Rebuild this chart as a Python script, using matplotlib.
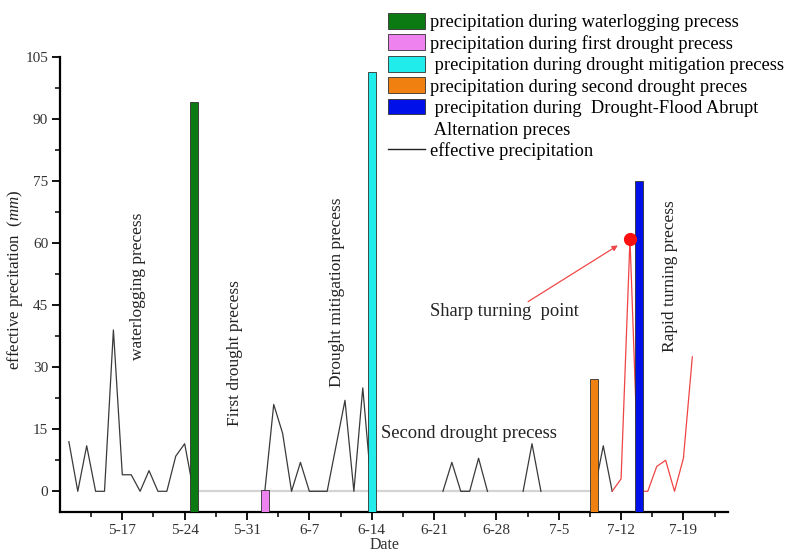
import numpy as np
import pandas as pd
import matplotlib
matplotlib.use('Agg')
import matplotlib.pyplot as plt
from matplotlib.patches import Patch
from matplotlib.lines import Line2D
from matplotlib.ticker import FixedLocator, MultipleLocator

plt.rcParams['font.family'] = ['Liberation Serif', 'DejaVu Serif']
plt.rcParams['mathtext.fontset'] = 'custom'
plt.rcParams['mathtext.rm'] = 'Liberation Serif'
plt.rcParams['mathtext.it'] = 'Liberation Serif:italic'

YEAR = 2016
nan = np.nan

# daily effective precipitation (mm), NaN where no curve is drawn
black_start = '5-11'
black_vals = ([12, 0, 11, 0, 0, 39, 4, 4, 0, 5, 0, 0, 8.5, 11.5, 0]      # 5-11 .. 5-25
              + [nan] * 7                                                 # 5-26 .. 6-1
              + [0, 21, 14, 0, 7, 0, 0, 0, 11, 22, 0, 25, 0]              # 6-2 .. 6-14
              + [nan] * 7                                                 # 6-15 .. 6-21
              + [0, 7, 0, 0, 8, 0]                                        # 6-22 .. 6-27
              + [nan] * 3                                                 # 6-28 .. 6-30
              + [0, 11.5, 0]                                              # 7-1 .. 7-3
              + [nan] * 5                                                 # 7-4 .. 7-8
              + [0, 11, 0])                                               # 7-9 .. 7-11
red_start = '7-11'
red_vals = [0, 3, 61, 0, 0, 6, 7.5, 0, 8, 32.5]                          # 7-11 .. 7-20

# precipitation bars for each process
bar_dates = ['5-25', '6-2', '6-14', '7-9', '7-14']
bar_vals = [94.2, 0.3, 101.3, 27.1, 75.1]
bar_colors = ['#0b7a12', '#ee82ee', '#20ecec', '#f08010', '#0010e8']
bar_labels = ['precipitation during waterlogging precess',
              'precipitation during first drought precess',
              ' precipitation during drought mitigation precess',
              'precipitation during second drought preces',
              ' precipitation during  Drought-Flood Abrupt']

turn_date = '7-13'
turn_val = 61

tick_dates = ['5-17', '5-24', '5-31', '6-7', '6-14', '6-21', '6-28', '7-5', '7-12', '7-19']


def d(s):
    m, dd = s.split('-')
    return pd.Timestamp(year=YEAR, month=int(m), day=int(dd))


def num(s):
    return matplotlib.dates.date2num(d(s))


black_x = pd.date_range(d(black_start), periods=len(black_vals), freq='D')
red_x = pd.date_range(d(red_start), periods=len(red_vals), freq='D')

fig = plt.figure(figsize=(7.88, 5.52), dpi=100)
ax = fig.add_axes([0.0761, 0.0725, 0.8477, 0.8243])

ymin = -5
# light baseline during the drought spell
ax.plot([d(bar_dates[0]), d(bar_dates[3])], [0, 0], color='#d4d4d4', lw=1.6, zorder=1)

ax.plot(black_x, black_vals, color='#3a3a3a', lw=0.9, zorder=2)
ax.plot(red_x, red_vals, color='#f04444', lw=0.9, zorder=2)

for dt, v, c in zip(bar_dates, bar_vals, bar_colors):
    ax.bar(d(dt), v - ymin, bottom=ymin, width=0.9, color=c,
           edgecolor='#303030', linewidth=0.6, zorder=3)

ax.plot(d(turn_date), turn_val, 'o', color='#ff1010', ms=8.5, zorder=4)
ax.annotate('', xy=(num('7-12') - 0.1, 59.8), xytext=(num('7-1') + 0.3, 45.5),
            arrowprops=dict(arrowstyle='-|>', color='#f04848', lw=0.9,
                            mutation_scale=8), zorder=4)

vtxt = dict(color='#222222', fontsize=12.5, ha='center', va='center', rotation=90)
htxt = dict(color='#222222', fontsize=13.3, ha='center', va='center')
ax.text(num('5-18') + 0.8, 49.5, 'waterlogging precess', **vtxt)
ax.text(num('5-29') + 0.6, 33.4, 'First drought precess', **vtxt)
ax.text(num('6-10') + 0.1, 48.0, 'Drought mitigation precess', **vtxt)
ax.text(num('6-24') + 0.9, 14.0, 'Second drought precess', **htxt)
ax.text(num('6-28') + 0.9, 43.5, 'Sharp turning  point', **htxt)
ax.text(num('7-17') + 0.5, 52.0, 'Rapid turning precess', **vtxt)

ax.set_xlim(d('5-10'), d('7-24'))
ax.set_ylim(ymin, 105)

ax.set_xticks([d(t) for t in tick_dates])
ax.set_xticklabels(tick_dates)
ax.xaxis.set_minor_locator(FixedLocator([num(t) - 3.5 for t in tick_dates] + [num('7-19') + 3.5]))
ax.set_yticks(np.arange(0, 106, 15))
ax.yaxis.set_minor_locator(MultipleLocator(7.5))

for s in ['top', 'right']:
    ax.spines[s].set_visible(False)
for s in ['left', 'bottom']:
    ax.spines[s].set_linewidth(1.6)
ax.tick_params(which='major', direction='out', length=6, width=1.3, labelsize=11,
               labelcolor='#333333', pad=2.5)
ax.tick_params(which='minor', direction='out', length=3.5, width=1.1)

fig.text(15 / 788, 1 - 280 / 552, r'effective precitation  $\it{(mm)}$', rotation=90,
         ha='center', va='center', fontsize=12.2, color='#222222')
fig.text(385 / 788, 1 - 545 / 552, 'Date', ha='center', va='center',
         fontsize=11.5, color='#333333')

handles = [Patch(facecolor=c, edgecolor='#303030', linewidth=0.6) for c in bar_colors]
handles.append(Patch(facecolor='none', edgecolor='none'))
handles.append(Line2D([], [], color='#222222', lw=1.0))
labels = bar_labels + [' Alternation preces', 'effective precipitation']
fig.legend(handles, labels, loc='upper left', bbox_to_anchor=(388 / 788, 1 - 13 / 552),
           frameon=False, fontsize=13.3, handlelength=2.0, handleheight=0.92,
           handletextpad=0.27, labelspacing=0.18, borderpad=0, borderaxespad=0)

fig.savefig('out.png', dpi=100)
